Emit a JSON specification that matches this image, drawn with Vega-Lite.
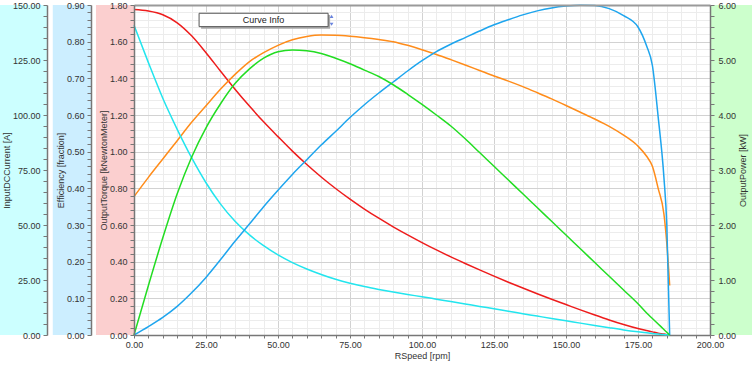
{
  "$schema": "https://vega.github.io/schema/vega-lite/v6.json",
  "width": 576,
  "height": 330,
  "autosize": {"type": "none"},
  "padding": {"left": 134, "top": 5, "right": 42, "bottom": 32},
  "background": "white",
  "config": {
    "view": {"stroke": null},
    "font": "Liberation Sans",
    "axis": {
      "labelFont": "Liberation Sans", "labelFontSize": 9, "labelColor": "#333333",
      "titleFont": "Liberation Sans", "titleFontSize": 9, "titleFontWeight": "normal", "titleColor": "#333333",
      "domainColor": "#777777", "domainWidth": 1.5, "tickColor": "#777777", "tickSize": 4,
      "labelFlush": false, "labelOverlap": false, "grid": false, "labelPadding": 3, "titlePadding": 1
    }
  },
  "data": {"values": [
    {"RSpeed": 0, "InputDCCurrent": 140.8, "Efficiency": 0, "OutputTorque": 1.775, "OutputPower": 0, "Curve5": 0.755},
    {"RSpeed": 5, "InputDCCurrent": 123.8, "Efficiency": 0.023, "OutputTorque": 1.767, "OutputPower": 0.9, "Curve5": 0.86},
    {"RSpeed": 10, "InputDCCurrent": 107.6, "Efficiency": 0.048, "OutputTorque": 1.747, "OutputPower": 1.767, "Curve5": 0.96},
    {"RSpeed": 15, "InputDCCurrent": 93.5, "Efficiency": 0.078, "OutputTorque": 1.703, "OutputPower": 2.567, "Curve5": 1.06},
    {"RSpeed": 20, "InputDCCurrent": 80.6, "Efficiency": 0.115, "OutputTorque": 1.632, "OutputPower": 3.233, "Curve5": 1.16},
    {"RSpeed": 25, "InputDCCurrent": 69.2, "Efficiency": 0.157, "OutputTorque": 1.54, "OutputPower": 3.767, "Curve5": 1.25},
    {"RSpeed": 30, "InputDCCurrent": 59.6, "Efficiency": 0.205, "OutputTorque": 1.44, "OutputPower": 4.2, "Curve5": 1.34},
    {"RSpeed": 35, "InputDCCurrent": 51.8, "Efficiency": 0.255, "OutputTorque": 1.342, "OutputPower": 4.567, "Curve5": 1.42},
    {"RSpeed": 40, "InputDCCurrent": 45.6, "Efficiency": 0.302, "OutputTorque": 1.25, "OutputPower": 4.833, "Curve5": 1.49},
    {"RSpeed": 45, "InputDCCurrent": 40.6, "Efficiency": 0.35, "OutputTorque": 1.163, "OutputPower": 5.033, "Curve5": 1.54},
    {"RSpeed": 50, "InputDCCurrent": 36.4, "Efficiency": 0.395, "OutputTorque": 1.082, "OutputPower": 5.15, "Curve5": 1.58},
    {"RSpeed": 55, "InputDCCurrent": 32.9, "Efficiency": 0.438, "OutputTorque": 1.003, "OutputPower": 5.183, "Curve5": 1.61},
    {"RSpeed": 60, "InputDCCurrent": 30.0, "Efficiency": 0.478, "OutputTorque": 0.93, "OutputPower": 5.167, "Curve5": 1.628},
    {"RSpeed": 65, "InputDCCurrent": 27.5, "Efficiency": 0.518, "OutputTorque": 0.862, "OutputPower": 5.117, "Curve5": 1.636},
    {"RSpeed": 70, "InputDCCurrent": 25.3, "Efficiency": 0.555, "OutputTorque": 0.799, "OutputPower": 5.033, "Curve5": 1.635},
    {"RSpeed": 75, "InputDCCurrent": 23.5, "Efficiency": 0.593, "OutputTorque": 0.741, "OutputPower": 4.933, "Curve5": 1.63},
    {"RSpeed": 80, "InputDCCurrent": 22.0, "Efficiency": 0.628, "OutputTorque": 0.687, "OutputPower": 4.817, "Curve5": 1.622},
    {"RSpeed": 85, "InputDCCurrent": 20.7, "Efficiency": 0.66, "OutputTorque": 0.637, "OutputPower": 4.7, "Curve5": 1.612},
    {"RSpeed": 90, "InputDCCurrent": 19.5, "Efficiency": 0.69, "OutputTorque": 0.59, "OutputPower": 4.55, "Curve5": 1.6},
    {"RSpeed": 95, "InputDCCurrent": 18.4, "Efficiency": 0.72, "OutputTorque": 0.546, "OutputPower": 4.377, "Curve5": 1.58},
    {"RSpeed": 100, "InputDCCurrent": 17.4, "Efficiency": 0.748, "OutputTorque": 0.504, "OutputPower": 4.193, "Curve5": 1.556},
    {"RSpeed": 105, "InputDCCurrent": 16.3, "Efficiency": 0.773, "OutputTorque": 0.464, "OutputPower": 4.0, "Curve5": 1.53},
    {"RSpeed": 110, "InputDCCurrent": 15.2, "Efficiency": 0.793, "OutputTorque": 0.426, "OutputPower": 3.8, "Curve5": 1.502},
    {"RSpeed": 115, "InputDCCurrent": 14.1, "Efficiency": 0.811, "OutputTorque": 0.39, "OutputPower": 3.567, "Curve5": 1.473},
    {"RSpeed": 120, "InputDCCurrent": 13.0, "Efficiency": 0.829, "OutputTorque": 0.355, "OutputPower": 3.317, "Curve5": 1.443},
    {"RSpeed": 125, "InputDCCurrent": 11.9, "Efficiency": 0.846, "OutputTorque": 0.321, "OutputPower": 3.067, "Curve5": 1.413},
    {"RSpeed": 130, "InputDCCurrent": 10.8, "Efficiency": 0.86, "OutputTorque": 0.288, "OutputPower": 2.817, "Curve5": 1.385},
    {"RSpeed": 135, "InputDCCurrent": 9.7, "Efficiency": 0.873, "OutputTorque": 0.256, "OutputPower": 2.567, "Curve5": 1.355},
    {"RSpeed": 140, "InputDCCurrent": 8.6, "Efficiency": 0.884, "OutputTorque": 0.225, "OutputPower": 2.317, "Curve5": 1.322},
    {"RSpeed": 145, "InputDCCurrent": 7.5, "Efficiency": 0.892, "OutputTorque": 0.195, "OutputPower": 2.067, "Curve5": 1.288},
    {"RSpeed": 150, "InputDCCurrent": 6.45, "Efficiency": 0.897, "OutputTorque": 0.166, "OutputPower": 1.817, "Curve5": 1.252},
    {"RSpeed": 155, "InputDCCurrent": 5.4, "Efficiency": 0.8995, "OutputTorque": 0.137, "OutputPower": 1.567, "Curve5": 1.215},
    {"RSpeed": 160, "InputDCCurrent": 4.35, "Efficiency": 0.8985, "OutputTorque": 0.109, "OutputPower": 1.317, "Curve5": 1.178},
    {"RSpeed": 165, "InputDCCurrent": 3.3, "Efficiency": 0.89, "OutputTorque": 0.082, "OutputPower": 1.067, "Curve5": 1.138},
    {"RSpeed": 170, "InputDCCurrent": 2.3, "Efficiency": 0.871, "OutputTorque": 0.057, "OutputPower": 0.817, "Curve5": 1.09},
    {"RSpeed": 175, "InputDCCurrent": 1.45, "Efficiency": 0.84, "OutputTorque": 0.035, "OutputPower": 0.567, "Curve5": 1.03},
    {"RSpeed": 178, "InputDCCurrent": 1.0, "Efficiency": 0.788, "OutputTorque": 0.024, "OutputPower": 0.4, "Curve5": 0.975},
    {"RSpeed": 180, "InputDCCurrent": 0.7, "Efficiency": 0.735, "OutputTorque": 0.017, "OutputPower": 0.3, "Curve5": 0.92},
    {"RSpeed": 182, "InputDCCurrent": 0.4, "Efficiency": 0.595, "OutputTorque": 0.01, "OutputPower": 0.2, "Curve5": 0.8},
    {"RSpeed": 184, "InputDCCurrent": 0.2, "Efficiency": 0.43, "OutputTorque": 0.005, "OutputPower": 0.1, "Curve5": 0.66},
    {"RSpeed": 185, "InputDCCurrent": 0.1, "Efficiency": 0.3, "OutputTorque": 0.002, "OutputPower": 0.05, "Curve5": 0.5},
    {"RSpeed": 186, "InputDCCurrent": 0, "Efficiency": 0, "OutputTorque": 0, "OutputPower": 0, "Curve5": 0.27}
  ]},
  "layer": [
    {
      "data": {"values": [{}]},
      "mark": {"type": "rect", "color": "#ccffff"},
      "encoding": {
        "x": {"datum": -46.6, "type": "quantitative", "scale": {"domain": [0, 200], "nice": false}, "axis": null},
        "x2": {"datum": -30.1}
      }
    },
    {
      "data": {"values": [{}]},
      "mark": {"type": "rect", "color": "#cceeff"},
      "encoding": {
        "x": {"datum": -28.2, "type": "quantitative", "scale": {"domain": [0, 200], "nice": false}, "axis": null},
        "x2": {"datum": -14.9}
      }
    },
    {
      "data": {"values": [{}]},
      "mark": {"type": "rect", "color": "#fbcfcf"},
      "encoding": {
        "x": {"datum": -13.2, "type": "quantitative", "scale": {"domain": [0, 200], "nice": false}, "axis": null},
        "x2": {"datum": 0}
      }
    },
    {
      "data": {"values": [{}]},
      "mark": {"type": "rect", "color": "#ccffcc"},
      "encoding": {
        "x": {"datum": 200.35, "type": "quantitative", "scale": {"domain": [0, 200], "nice": false}, "axis": null},
        "x2": {"datum": 215}
      }
    },
    {
      "mark": {"type": "line", "color": "#ee1c1c", "strokeWidth": 1.5, "interpolate": "monotone"},
      "encoding": {
        "x": {"field": "RSpeed", "type": "quantitative", "scale": {"domain": [0, 200], "nice": false},
          "axis": {
            "orient": "bottom",
            "values": [0,5,10,15,20,25,30,35,40,45,50,55,60,65,70,75,80,85,90,95,100,105,110,115,120,125,130,135,140,145,150,155,160,165,170,175,180,185,190,195,200],
            "labelExpr": "datum.value % 25 === 0 ? format(datum.value, '.2f') : ''",
            "grid": true,
            "gridColor": {"condition": {"test": "datum.value % 25 === 0", "value": "#d2d2d2"}, "value": "#ececec"},
            "tickSize": 3, "labelPadding": 2, "titlePadding": 2,
            "title": "RSpeed [rpm]", "zindex": 0
          }
        },
        "y": {"field": "OutputTorque", "type": "quantitative", "scale": {"domain": [0, 1.8], "nice": false},
          "axis": {
            "orient": "left",
            "values": [0,0.04,0.08,0.12,0.16,0.2,0.24,0.28,0.32,0.36,0.4,0.44,0.48,0.52,0.56,0.6,0.64,0.68,0.72,0.76,0.8,0.84,0.88,0.92,0.96,1,1.04,1.08,1.12,1.16,1.2,1.24,1.28,1.32,1.36,1.4,1.44,1.48,1.52,1.56,1.6,1.64,1.68,1.72,1.76,1.8],
            "grid": true,
            "gridColor": {"condition": {"test": "abs(datum.value*5 - round(datum.value*5)) < 0.001", "value": "#d2d2d2"}, "value": "#ececec"},
            "labels": false, "ticks": false, "domain": false, "title": null, "zindex": 0
          }
        }
      }
    },
    {
      "mark": {"type": "line", "color": "#ff8c1a", "strokeWidth": 1.5, "interpolate": "monotone"},
      "encoding": {
        "x": {"field": "RSpeed", "type": "quantitative", "scale": {"domain": [0, 200], "nice": false}, "axis": null},
        "y": {"field": "Curve5", "type": "quantitative", "scale": {"domain": [0, 1.8], "nice": false},
          "axis": {
            "orient": "left",
            "values": [0,0.04,0.08,0.12,0.16,0.2,0.24,0.28,0.32,0.36,0.4,0.44,0.48,0.52,0.56,0.6,0.64,0.68,0.72,0.76,0.8,0.84,0.88,0.92,0.96,1,1.04,1.08,1.12,1.16,1.2,1.24,1.28,1.32,1.36,1.4,1.44,1.48,1.52,1.56,1.6,1.64,1.68,1.72,1.76,1.8],
            "labelExpr": "abs(datum.value*5 - round(datum.value*5)) < 0.001 ? format(datum.value, '.2f') : ''",
            "title": "OutputTorque [kNewtonMeter]", "offset": 0, "zindex": 1
          }
        }
      }
    },
    {
      "mark": {"type": "line", "color": "#22e5ee", "strokeWidth": 1.5, "interpolate": "monotone"},
      "encoding": {
        "x": {"field": "RSpeed", "type": "quantitative", "scale": {"domain": [0, 200], "nice": false},
          "axis": {"orient": "top", "labels": false, "ticks": false, "grid": false, "domain": true, "domainColor": "#9a9a9a", "domainWidth": 2, "title": null, "zindex": 1}
        },
        "y": {"field": "InputDCCurrent", "type": "quantitative", "scale": {"domain": [0, 150], "nice": false},
          "axis": {
            "orient": "left",
            "values": [0,5,10,15,20,25,30,35,40,45,50,55,60,65,70,75,80,85,90,95,100,105,110,115,120,125,130,135,140,145,150],
            "labelExpr": "datum.value % 25 === 0 ? format(datum.value, '.2f') : ''",
            "title": "InputDCCurrent [A]", "offset": 87, "zindex": 1
          }
        }
      }
    },
    {
      "mark": {"type": "line", "color": "#1ea5ee", "strokeWidth": 1.5, "interpolate": "monotone"},
      "encoding": {
        "x": {"field": "RSpeed", "type": "quantitative", "scale": {"domain": [0, 200], "nice": false}, "axis": null},
        "y": {"field": "Efficiency", "type": "quantitative", "scale": {"domain": [0, 0.9], "nice": false},
          "axis": {
            "orient": "left",
            "values": [0,0.02,0.04,0.06,0.08,0.1,0.12,0.14,0.16,0.18,0.2,0.22,0.24,0.26,0.28,0.3,0.32,0.34,0.36,0.38,0.4,0.42,0.44,0.46,0.48,0.5,0.52,0.54,0.56,0.58,0.6,0.62,0.64,0.66,0.68,0.7,0.72,0.74,0.76,0.78,0.8,0.82,0.84,0.86,0.88,0.9],
            "labelExpr": "abs(datum.value*10 - round(datum.value*10)) < 0.001 ? format(datum.value, '.2f') : ''",
            "title": "Efficiency [fraction]", "offset": 43, "zindex": 1
          }
        }
      }
    },
    {
      "mark": {"type": "line", "color": "#22dd22", "strokeWidth": 1.5, "interpolate": "monotone"},
      "encoding": {
        "x": {"field": "RSpeed", "type": "quantitative", "scale": {"domain": [0, 200], "nice": false}, "axis": null},
        "y": {"field": "OutputPower", "type": "quantitative", "scale": {"domain": [0, 6], "nice": false},
          "axis": {
            "orient": "right",
            "values": [0,0.2,0.4,0.6,0.8,1,1.2,1.4,1.6,1.8,2,2.2,2.4,2.6,2.8,3,3.2,3.4,3.6,3.8,4,4.2,4.4,4.6,4.8,5,5.2,5.4,5.6,5.8,6],
            "labelExpr": "abs(datum.value - round(datum.value)) < 0.001 ? format(datum.value, '.2f') : ''",
            "title": "OutputPower [kW]", "titleAngle": 270, "titleBaseline": "top", "titlePadding": 3, "offset": 0, "labelPadding": 4, "zindex": 1
          }
        }
      }
    },
    {
      "data": {"values": [{}]},
      "mark": {"type": "rect", "color": "#a8a8a8"},
      "encoding": {
        "x": {"datum": 23.3, "type": "quantitative", "scale": {"domain": [0, 200], "nice": false}, "axis": null},
        "x2": {"datum": 68.1},
        "y": {"datum": 1.745, "type": "quantitative", "scale": {"domain": [0, 1.8], "nice": false}, "axis": null},
        "y2": {"datum": 1.671}
      }
    },
    {
      "data": {"values": [{}]},
      "mark": {"type": "rect", "fill": "#ffffff", "stroke": "#555555", "strokeWidth": 1},
      "encoding": {
        "x": {"datum": 22.6, "type": "quantitative", "scale": {"domain": [0, 200], "nice": false}, "axis": null},
        "x2": {"datum": 67.4},
        "y": {"datum": 1.755, "type": "quantitative", "scale": {"domain": [0, 1.8], "nice": false}, "axis": null},
        "y2": {"datum": 1.682}
      }
    },
    {
      "data": {"values": [{"label": "Curve Info"}]},
      "mark": {"type": "text", "font": "Liberation Sans", "fontSize": 9, "color": "#222222", "align": "center", "baseline": "middle"},
      "encoding": {
        "x": {"datum": 45, "type": "quantitative", "scale": {"domain": [0, 200], "nice": false}, "axis": null},
        "y": {"datum": 1.718, "type": "quantitative", "scale": {"domain": [0, 1.8], "nice": false}, "axis": null},
        "text": {"field": "label"}
      }
    },
    {
      "data": {"values": [{}]},
      "mark": {"type": "point", "shape": "triangle-up", "filled": true, "color": "#2a4fd0", "size": 14},
      "encoding": {
        "x": {"datum": 68.6, "type": "quantitative", "scale": {"domain": [0, 200], "nice": false}, "axis": null},
        "y": {"datum": 1.738, "type": "quantitative", "scale": {"domain": [0, 1.8], "nice": false}, "axis": null}
      }
    },
    {
      "data": {"values": [{}]},
      "mark": {"type": "point", "shape": "triangle-down", "filled": true, "color": "#2a4fd0", "size": 14},
      "encoding": {
        "x": {"datum": 68.6, "type": "quantitative", "scale": {"domain": [0, 200], "nice": false}, "axis": null},
        "y": {"datum": 1.695, "type": "quantitative", "scale": {"domain": [0, 1.8], "nice": false}, "axis": null}
      }
    }
  ],
  "resolve": {"scale": {"y": "independent"}, "axis": {"x": "independent", "y": "independent"}}
}
